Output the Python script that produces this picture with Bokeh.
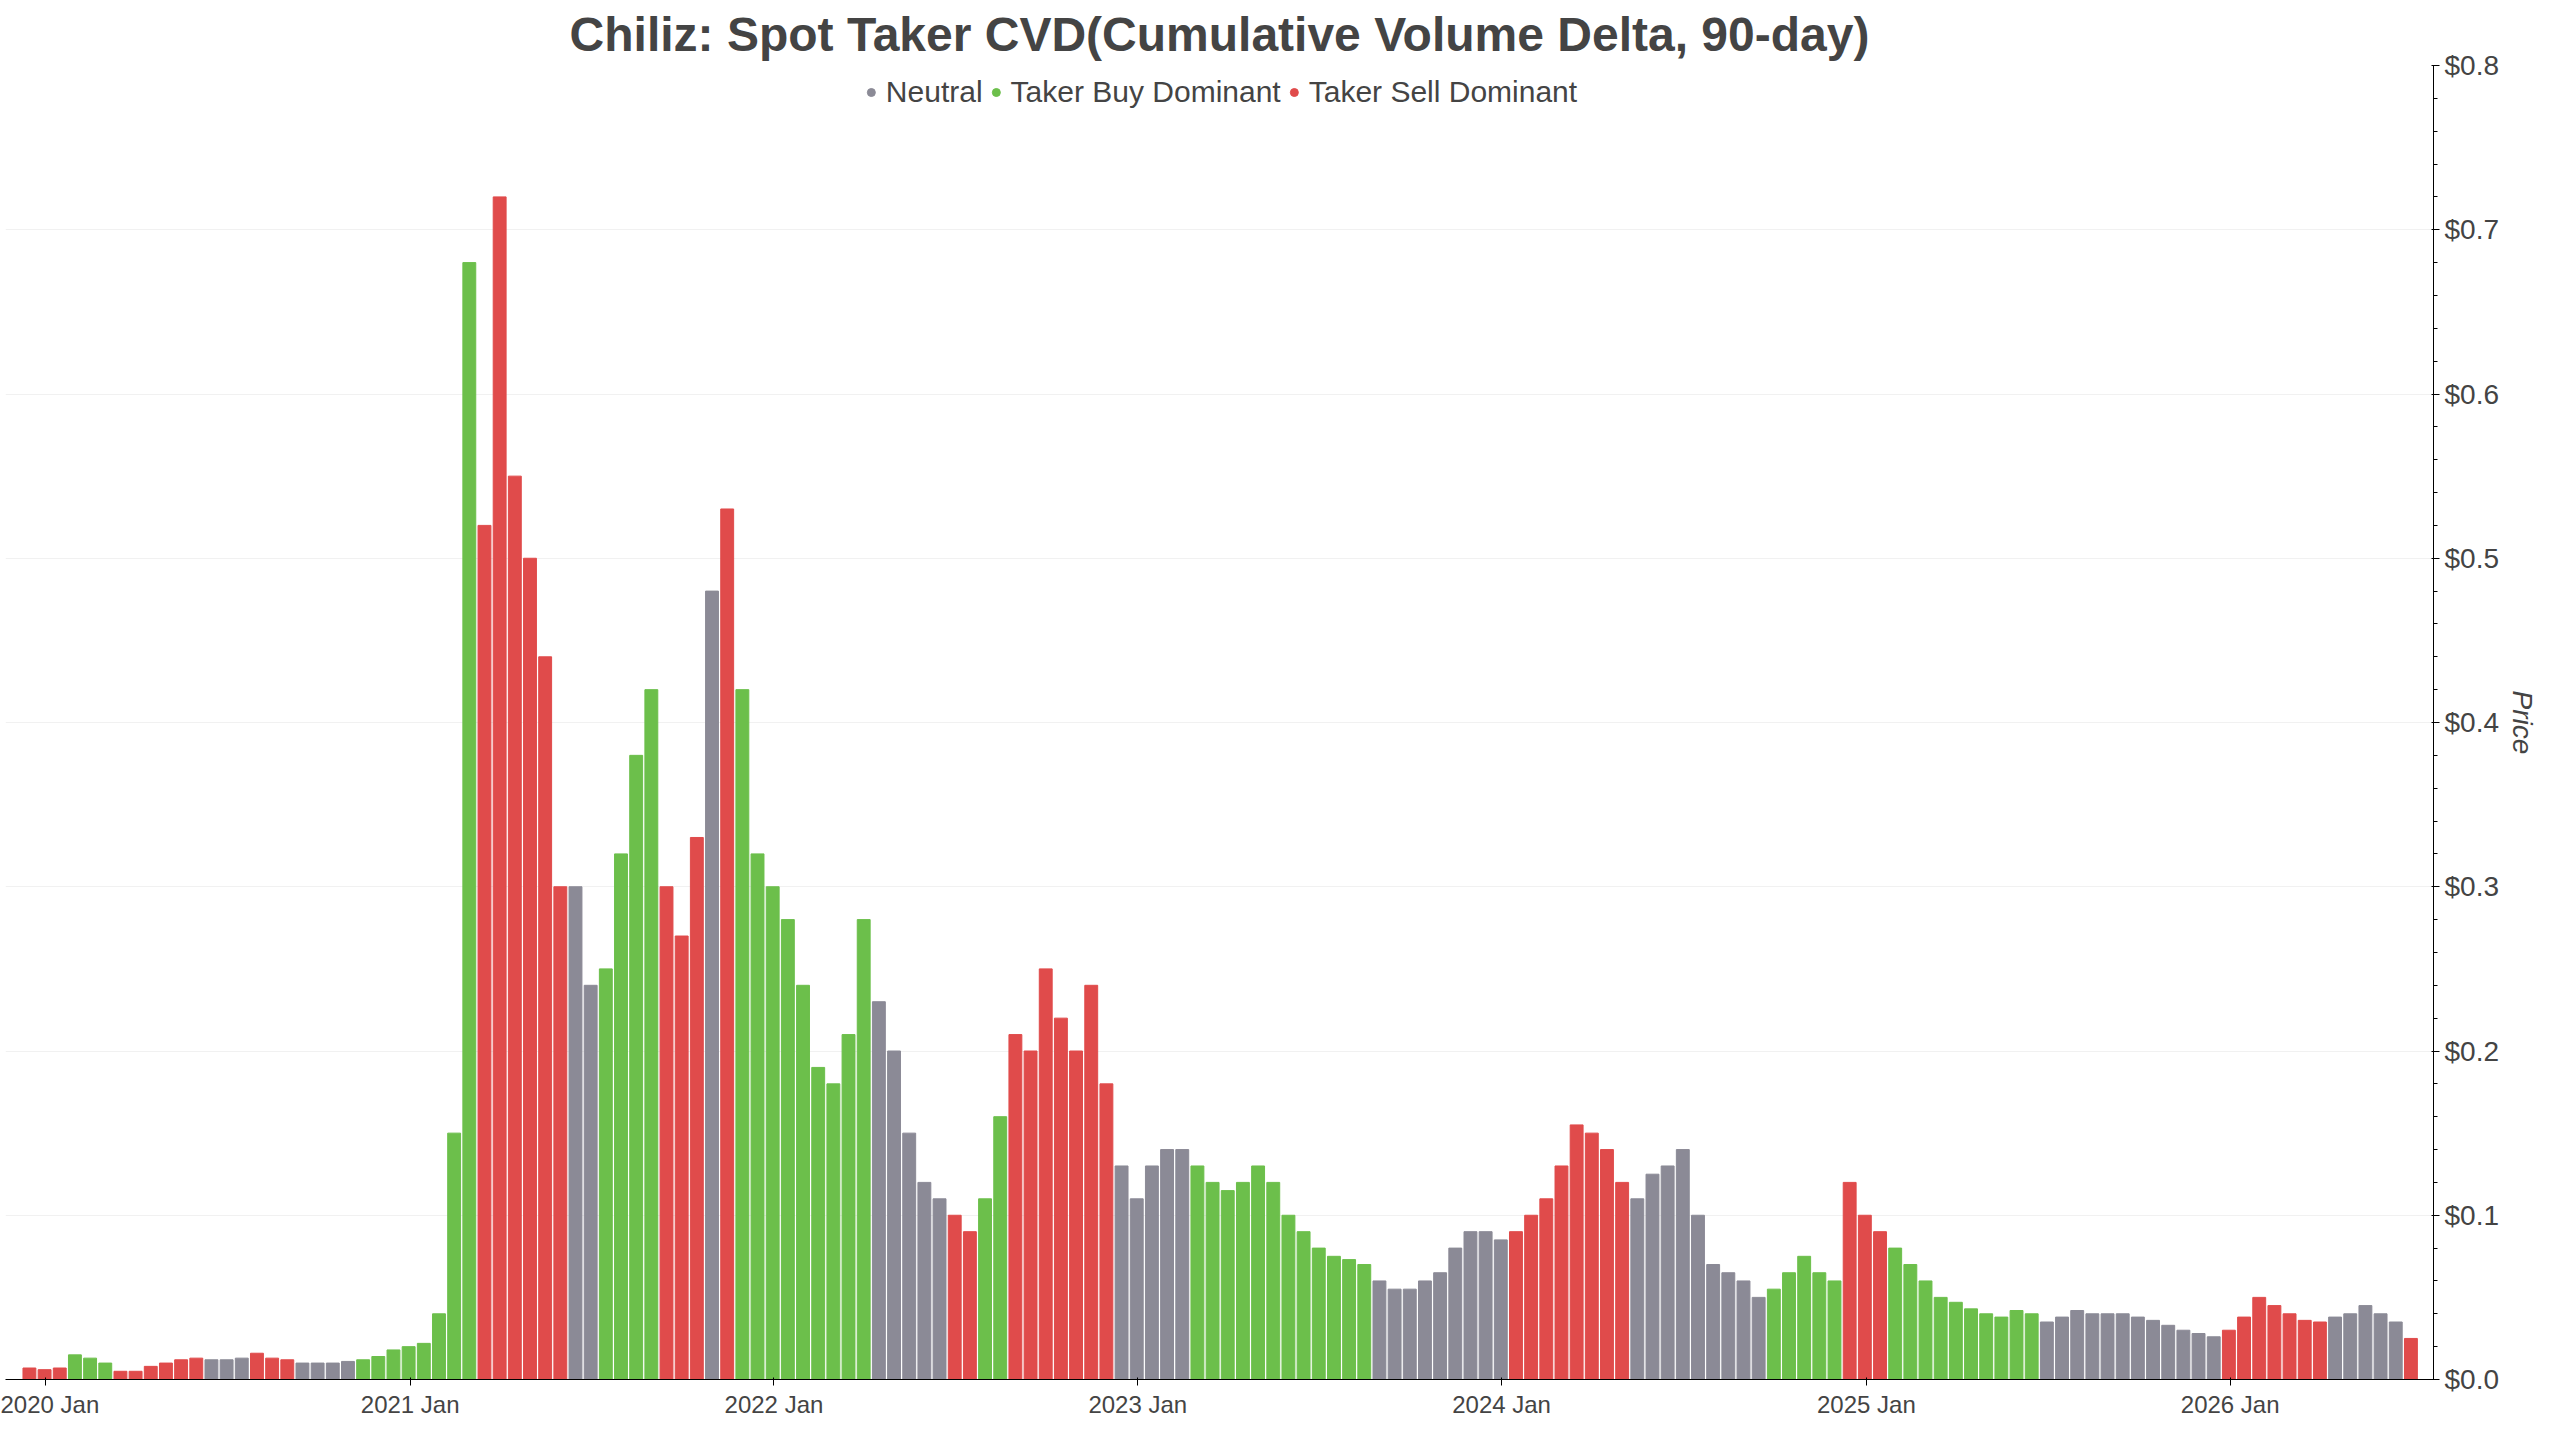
from datetime import datetime, timedelta

from bokeh.embed import file_html
from bokeh.resources import INLINE
from bokeh.plotting import figure
from bokeh.models import Range1d, Title, DatetimeTickFormatter, NumeralTickFormatter

# semi-monthly price samples, starting mid-Dec 2019
# n = neutral, g = taker buy dominant, r = taker sell dominant
segments = [
    ("r", [0.007, 0.006, 0.007]),
    ("g", [0.015, 0.013, 0.010]),
    ("r", [0.005, 0.005]),
    ("r", [0.008, 0.010, 0.012, 0.013]),
    ("n", [0.012, 0.012, 0.013]),
    ("r", [0.016, 0.013, 0.012]),
    ("n", [0.010, 0.010, 0.010, 0.011]),
    ("g", [0.012, 0.014, 0.018, 0.020, 0.022, 0.040, 0.15]),
    ("g", [0.68]),
    ("r", [0.52, 0.72, 0.55, 0.50, 0.44, 0.30]),
    ("n", [0.30, 0.24]),
    ("g", [0.25, 0.32, 0.38, 0.42]),
    ("r", [0.30, 0.27, 0.33]),
    ("n", [0.48]),
    ("r", [0.53]),
    ("g", [0.42, 0.32, 0.30, 0.28, 0.24, 0.19, 0.18, 0.21, 0.28]),
    ("n", [0.23, 0.20, 0.15, 0.12, 0.11]),
    ("r", [0.10, 0.09]),
    ("g", [0.11, 0.16]),
    ("r", [0.21, 0.20, 0.25, 0.22, 0.20, 0.24, 0.18]),
    ("n", [0.13, 0.11, 0.13, 0.14, 0.14]),
    ("g", [0.13, 0.12, 0.115, 0.12, 0.13, 0.12, 0.10, 0.09, 0.08, 0.075, 0.073, 0.07]),
    ("n", [0.06, 0.055, 0.055, 0.06, 0.065, 0.08, 0.09, 0.09, 0.085]),
    ("r", [0.09, 0.10, 0.11, 0.13, 0.155, 0.15, 0.14, 0.12]),
    ("n", [0.11, 0.125, 0.13, 0.14, 0.10, 0.07, 0.065, 0.06, 0.05]),
    ("g", [0.055, 0.065, 0.075, 0.065, 0.06]),
    ("r", [0.12, 0.10, 0.09]),
    ("g", [0.08, 0.07, 0.06, 0.05, 0.047, 0.043, 0.04, 0.038, 0.042, 0.04]),
    ("n", [0.035, 0.038, 0.042, 0.04, 0.04, 0.04, 0.038, 0.036, 0.033, 0.03, 0.028, 0.026]),
    ("r", [0.03, 0.038, 0.05, 0.045, 0.04, 0.036, 0.035]),
    ("n", [0.038, 0.04, 0.045, 0.04, 0.035]),
    ("r", [0.025]),
]

colors = {"n": "#8b8a96", "g": "#6cbf4b", "r": "#e04b4b"}
legend_names = {"n": "Neutral", "g": "Taker Buy Dominant", "r": "Taker Sell Dominant"}


def ms(d):
    return (d - datetime(1970, 1, 1)).total_seconds() * 1000


start = datetime(2019, 12, 16)
step = timedelta(days=365.25 / 24)
xs, tops, cols = [], [], []
for code, vals in segments:
    for v in vals:
        xs.append(ms(start + step * len(xs)))
        tops.append(v)
        cols.append(colors[code])

FONT = "Open Sans"

p = figure(width=2540, height=1420, x_axis_type="datetime",
           output_backend="svg", toolbar_location=None,
           x_range=Range1d(ms(datetime(2019, 11, 22)), ms(datetime(2026, 7, 24))),
           y_range=Range1d(0, 0.8), y_axis_location="right")
p.outline_line_color = None

p.vbar(x=xs, top=tops, width=step.total_seconds() * 1000 * 0.85,
       fill_color=cols, line_color=cols)

for code in ["n", "g", "r"]:
    p.scatter(x=[ms(datetime(2021, 1, 1))], y=[-1], size=26, color=colors[code],
              legend_label=legend_names[code])
p.legend.orientation = "horizontal"
p.legend.location = "top_center"
p.legend.label_text_font_size = "30px"
p.legend.border_line_color = None

p.xgrid.grid_line_color = None
p.ygrid.grid_line_color = "#f1f1f1"
p.xaxis.formatter = DatetimeTickFormatter(months="%Y %b", years="%Y %b")
p.xaxis.major_label_text_font_size = "24px"
p.yaxis.formatter = NumeralTickFormatter(format="$0.0")
p.yaxis.major_label_text_font_size = "28px"
p.yaxis.axis_label = "Price"
p.yaxis.axis_label_text_font_size = "28px"

p.add_layout(Title(text="Chiliz: Spot Taker CVD(Cumulative Volume Delta, 90-day)",
                   align="center", text_font_size="48px"), "above")

open("out.html", "w").write(file_html(p, INLINE))
